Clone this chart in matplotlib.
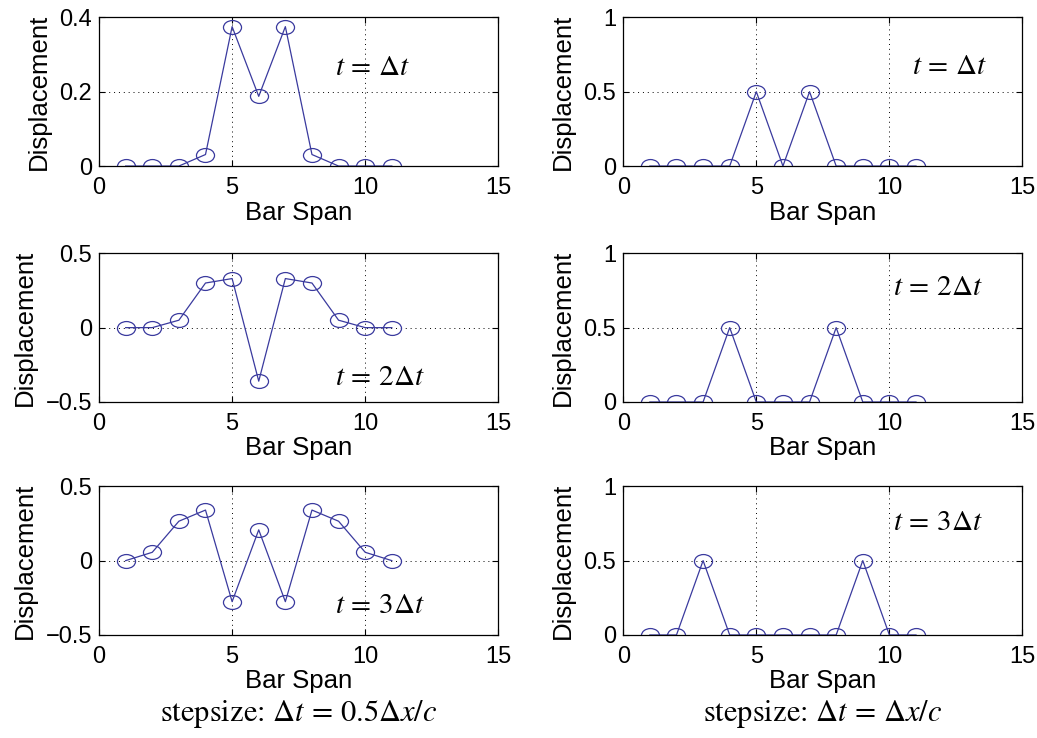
import matplotlib
matplotlib.use("Agg")
import matplotlib.pyplot as plt
from matplotlib.path import Path
from matplotlib.transforms import Affine2D

# ---- данные ----
span = [1, 2, 3, 4, 5, 6, 7, 8, 9, 10, 11]

# шаг dt = 0.5 dx/c
half_t1 = [0, 0, 0, 0.031, 0.375, 0.1875, 0.375, 0.031, 0, 0, 0]
half_t2 = [0, 0, 0.05, 0.30, 0.33, -0.36, 0.33, 0.30, 0.05, 0, 0]
half_t3 = [0, 0.056, 0.265, 0.34, -0.276, 0.207, -0.276, 0.34, 0.265, 0.056, 0]

# шаг dt = dx/c
full_t1 = [0, 0, 0, 0, 0.5, 0, 0.5, 0, 0, 0, 0]
full_t2 = [0, 0, 0, 0.5, 0, 0, 0, 0.5, 0, 0, 0]
full_t3 = [0, 0, 0.5, 0, 0, 0, 0, 0, 0.5, 0, 0]

labels = [r'$t\,=\,\Delta t$', r'$t\,=\,2\Delta t$', r'$t\,=\,3\Delta t$']
captions = [r'stepsize: $\Delta t\,=\,0.5\Delta x/c$', r'stepsize: $\Delta t\,=\,\Delta x/c$']

left_ylims = [(0, 0.4), (-0.5, 0.5), (-0.5, 0.5)]
left_yticks = [[0, 0.2, 0.4], [-0.5, 0, 0.5], [-0.5, 0, 0.5]]
left_ytlabels = [['0', '0.2', '0.4'], ['\u22120.5', '0', '0.5'], ['\u22120.5', '0', '0.5']]
left_txt = [(8.85, 0.267), (8.85, -0.333), (8.85, -0.30)]
right_txt = [(10.85, 0.67), (10.15, 0.77), (10.15, 0.76)]

# ---- оформление ----
plt.rcParams['font.family'] = ['Liberation Sans', 'DejaVu Sans']
plt.rcParams['mathtext.fontset'] = 'stix'
BLUE = '#3a3a9e'
ellipse = Path.unit_circle().transformed(Affine2D().scale(1.3, 1.0))

fig = plt.figure(figsize=(10.37, 7.38), dpi=100)

lefts = [0.0955, 0.601]
bottoms = [0.775, 0.4553, 0.1396]
w, h = 0.385, 0.2015

cols = [[half_t1, half_t2, half_t3], [full_t1, full_t2, full_t3]]

for c in range(2):
    for r in range(3):
        ax = fig.add_axes([lefts[c], bottoms[r], w, h])
        ax.plot(span, cols[c][r], color=BLUE, lw=0.9, marker=ellipse,
                ms=13, mfc='none', mec=BLUE, mew=0.9)
        ax.set_xlim(0, 15)
        ax.set_xticks([0, 5, 10, 15])
        if c == 0:
            ax.set_ylim(*left_ylims[r])
            ax.set_yticks(left_yticks[r])
            ax.set_yticklabels(left_ytlabels[r])
            tx, ty = left_txt[r]
        else:
            ax.set_ylim(0, 1)
            ax.set_yticks([0, 0.5, 1])
            ax.set_yticklabels(['0', '0.5', '1'])
            tx, ty = right_txt[r]
        ax.grid(True, color='black', ls=(0, (1, 4)), lw=0.7)
        ax.tick_params(direction='in', top=True, right=True, labelsize=17,
                       length=4, width=0.8)
        ax.tick_params(axis='x', pad=8)
        ax.tick_params(axis='y', pad=5)
        for s in ax.spines.values():
            s.set_linewidth(0.9)
        ax.set_xlabel('Bar Span', fontsize=18.5, labelpad=1)
        ax.set_ylabel('Displacement', fontsize=18.5, labelpad=6)
        ax.text(tx, ty, labels[r], fontsize=21, va='center', ha='left')

fig.text(0.0955 + w / 2, 0.032, captions[0], fontsize=22, ha='center',
         va='center', family='STIXGeneral')
fig.text(0.601 + w / 2, 0.032, captions[1], fontsize=22, ha='center',
         va='center', family='STIXGeneral')

fig.savefig('out.png', dpi=100)
